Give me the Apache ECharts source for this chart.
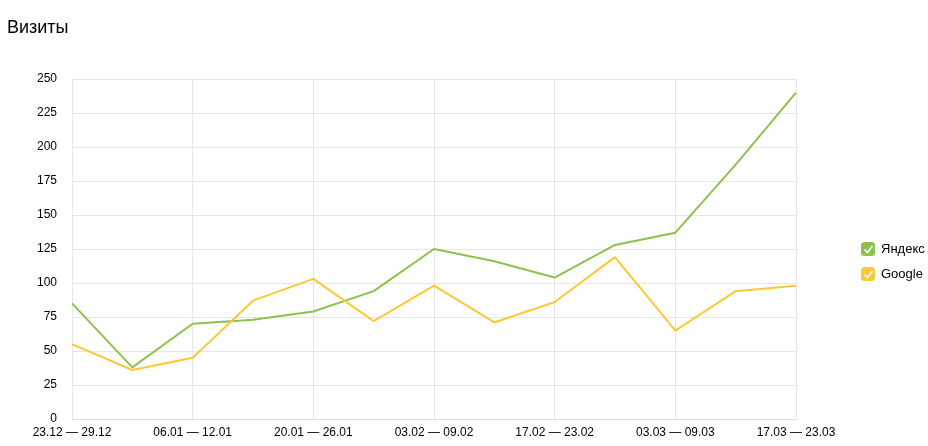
<!DOCTYPE html>
<html>
<head>
<meta charset="utf-8">
<script src="https://cdn.jsdelivr.net/npm/echarts@6/dist/echarts.min.js"></script>
<style>html,body{margin:0;padding:0;background:#fff;}#c{width:928px;height:446px;}</style>
</head>
<body>
<div id="c"></div>
<script>
var categories = ['23.12 — 29.12','30.12 — 05.01','06.01 — 12.01','13.01 — 19.01','20.01 — 26.01','27.01 — 02.02','03.02 — 09.02','10.02 — 16.02','17.02 — 23.02','24.02 — 02.03','03.03 — 09.03','10.03 — 16.03','17.03 — 23.03'];
var yandex = [85, 38, 70, 73, 79, 94, 125, 116, 104, 128, 137, 187, 240];
var google = [55, 36, 45, 87, 103, 72, 98, 71, 86, 119, 65, 94, 98];
var seriesNames = ['Яндекс', 'Google'];
var colors = ['#8bc34a', '#fcc934'];

var chart = echarts.init(document.getElementById('c'));
function check(y) {
  return {
    type: 'polyline', silent: true,
    shape: { points: [[864.5, y + 7.5], [867.5, y + 10.5], [872.5, y + 4]] },
    style: { stroke: '#fff', lineWidth: 1.6, fill: null },
    z: 100
  };
}
chart.setOption({
  animation: false,
  title: {
    text: 'Визиты', left: 7, top: 19, padding: 0,
    textStyle: { fontFamily: 'Liberation Sans, Arial', fontSize: 18, fontWeight: 'normal', color: '#000' }
  },
  legend: {
    orient: 'vertical', left: 861, top: 242, padding: 0,
    icon: 'roundRect', itemWidth: 14, itemHeight: 14, itemGap: 11,
    textStyle: { fontFamily: 'Liberation Sans, Arial', fontSize: 13, color: '#000', padding: [0, 0, 0, 1] },
    data: seriesNames
  },
  graphic: [check(242), check(267)],
  grid: { left: 72, right: 132, top: 79, bottom: 27, containLabel: false },
  xAxis: {
    type: 'category', data: categories, boundaryGap: false,
    axisLine: { lineStyle: { color: '#e0e0e0' } },
    axisTick: { show: false },
    axisLabel: { interval: 1, color: '#000', fontFamily: 'Liberation Sans, Arial', fontSize: 12, margin: 8 },
    splitLine: { show: true, interval: 1, lineStyle: { color: '#e6e6e6' } }
  },
  yAxis: {
    type: 'value', min: 0, max: 250, interval: 25,
    axisLine: { show: false }, axisTick: { show: false },
    axisLabel: { color: '#000', fontFamily: 'Liberation Sans, Arial', fontSize: 12, margin: 15 },
    splitLine: { lineStyle: { color: '#e6e6e6' } }
  },
  series: [
    { name: seriesNames[0], type: 'line', data: yandex, color: colors[0], showSymbol: false, lineStyle: { width: 2 } },
    { name: seriesNames[1], type: 'line', data: google, color: colors[1], showSymbol: false, lineStyle: { width: 2 } }
  ]
});
</script>
</body>
</html>
